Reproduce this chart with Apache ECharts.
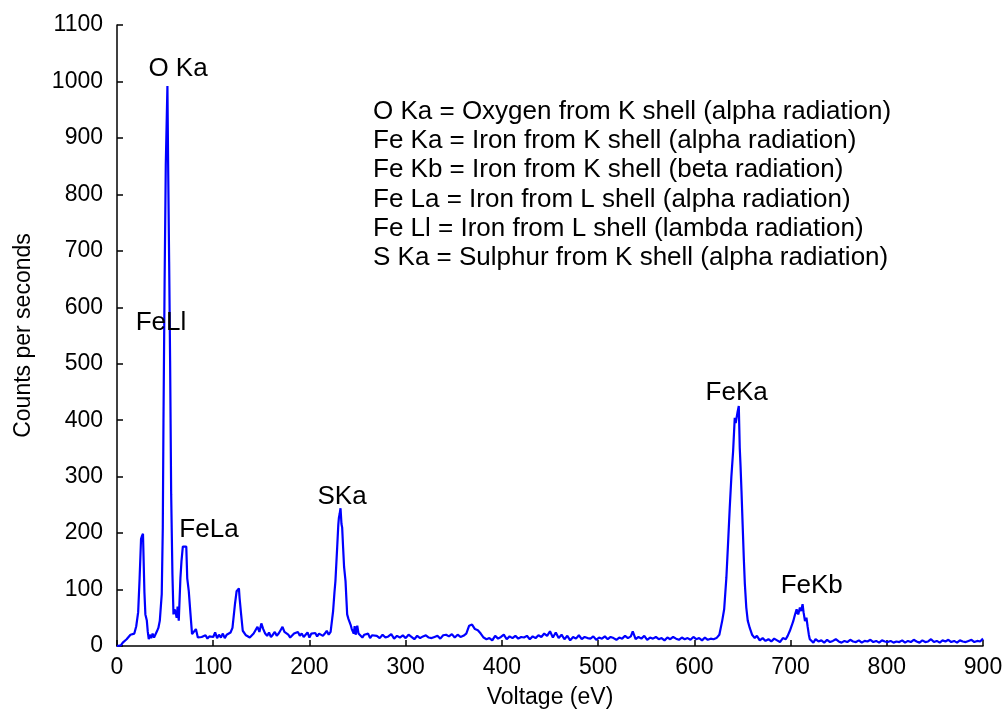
<!DOCTYPE html>
<html><head><meta charset="utf-8">
<script src="https://cdn.jsdelivr.net/npm/echarts@6/dist/echarts.min.js"></script>
<style>html,body{margin:0;padding:0;background:#fff}#c{width:1005px;height:709px}</style>
</head><body><div id="c"></div>
<script>
// Voltage (eV)
const voltage = [0,2,4,6,8,10,12,14,16,18,20,22,23.5,25,26,27,27.7,28.5,29.5,31,32,33,34,35.5,37,38.5,40,41.5,43,44.5,46.5,47.6,48.3,49.5,50.7,52.4,53.1,54.2,55.2,56.3,57.6,58.7,59.8,60.9,62,63,64.2,65.9,67,68.4,70,72,73,74.6,76.4,78,80,82,84,86,88,90,92,94,96,98,100,102,104,106,108,110,112,114,116,118,120,122.6,124.3,126.7,127.4,128.3,129,130.7,132,134,136,138,140,142,144,146,148,150,152,154,156,158,160,162,164,166,168,170,172,174,176,178,180,182,184,186,188,190,192,194,196,198,200,202,204,206,208,210,212,214,216,218,220,222,223.6,224.6,226,227,228.8,230,230.6,231.5,232.3,233.3,234,235,236,237.5,238.5,239.2,240.5,242.7,244,246,247,248,249.7,251,253,255,257,259,261,263,265,267,270,273,276,279,282,285,288,291,294,297,300,303,306,309,312,315,318,321,324,327,330,333,336,339,342,345,348,351,354,357,360,363,366,369,372,375,378,381,384,387,390,393,396,399,402,405,408,411,414,417,420,423,426,429,432,435,438,441,444,447,450,453,456,459,462,465,468,471,474,477,480,483,486,489,492,495,498,501,504,507,510,513,516,519,522,525,528,531,534,536,539,542,545,548,551,554,557,560,563,566,569,572,575,578,581,584,587,590,593,596,599,602,605,608,611,614,617,620,623,626,629,631,633.3,635,636.8,638.5,640.3,642,643,644,645,646.2,647.2,648,649,650.2,651.4,652.5,654,655.5,657.6,660,662.8,665,668,671,674,677,680,683,686,689,692,695,697,699.3,701,702.8,704.5,706.3,708,709.7,711,712.5,713.5,715,716.5,717.7,719,720,722,723.7,726,729,732,735,738,741,744,747,750,753,756,759,762,765,768,771,774,777,780,783,786,789,792,795,798,801,804,807,810,813,816,819,822,825,828,831,834,837,840,843,846,849,852,855,858,861,864,867,870,873,876,879,882,885,888,891,894,897,900];
// Counts per seconds
const counts = [0,2,1,6,5,12,14,20,18,22,35,60,120,190,195,199,150,95,56,45,25,12,20,14,22,15,17,26,32,45,92,210,400,650,853,992,860,680,505,269,127,56,65,60,50,70,45,120,150,176,178,176,120,97,56,21,18,30,15,18,16,14,19,13,17,14,16,24,14,20,15,22,14,20,18,24,32,74,97,102,85,85,56,27,30,19,22,15,18,22,20,34,25,40,30,22,18,24,16,20,25,18,22,28,34,25,28,20,15,17,22,20,25,18,22,16,20,24,15,22,19,23,17,22,25,18,22,27,20,25,27,62,95,115,174,215,227,235,244,216,210,174,140,115,80,56,48,38,30,22,35,20,36,22,24,15,20,17,22,14,19,16,18,14,20,15,17,21,13,18,15,19,14,20,16,12,18,14,17,19,15,14,16,18,13,19,20,17,21,15,20,16,18,22,36,38,30,28,22,15,12,14,10,18,13,16,20,12,17,14,18,13,16,15,18,12,17,14,19,16,22,18,26,15,24,14,20,12,18,10,16,13,19,12,16,14,13,17,11,15,13,17,12,16,14,11,15,13,18,14,17,26,12,16,13,18,11,15,13,16,12,14,10,15,12,16,13,11,15,12,14,11,16,12,14,10,15,11,13,12,14,20,45,65,121,180,245,300,345,404,395,393,415,425,351,320,275,215,156,110,68,45,32,20,14,18,10,14,9,12,8,13,10,7,14,12,18,27,35,44,55,65,56,68,62,74,60,44,50,35,20,12,10,6,12,8,10,6,11,7,9,12,8,6,9,7,11,8,7,10,6,9,8,11,7,9,6,10,8,7,9,6,8,7,10,6,9,7,11,8,6,10,7,8,12,7,9,6,10,8,11,7,9,6,10,8,7,9,11,7,9,8,13];
// Peak labels
const peakNames = ['O Ka','FeLl','FeLa','SKa','FeKa','FeKb'];
const peakX = [63.4,45.7,95.6,233.9,644,722];
const peakY = [1022,572,205,265,449,106];
// Explanatory notes
const notes = [
  'O Ka = Oxygen from K shell (alpha radiation)',
  'Fe Ka = Iron from K shell (alpha radiation)',
  'Fe Kb = Iron from K shell (beta radiation)',
  'Fe La = Iron from L shell (alpha radiation)',
  'Fe Ll = Iron from L shell (lambda radiation)',
  'S Ka = Sulphur from K shell (alpha radiation)'
];

const FONT = 'Liberation Sans, Arial, sans-serif';
const chart = echarts.init(document.getElementById('c'), null, {renderer:'canvas'});
const axisCommon = {
  axisLine:{show:true, lineStyle:{color:'#000', width:1.5}},
  axisTick:{show:true, inside:true, length:6, lineStyle:{color:'#000', width:1.5}},
  splitLine:{show:false}
};
chart.setOption({
  animation:false,
  backgroundColor:'#fff',
  grid:{left:117, right:22, top:25, bottom:63, containLabel:false, outerBoundsMode:'none'},
  xAxis:Object.assign({type:'value', min:0, max:900, interval:100,
    name:'Voltage (eV)', nameLocation:'middle', nameGap:40,
    nameTextStyle:{color:'#000', fontSize:23, fontFamily:FONT}}, axisCommon,
    {axisLabel:{color:'#000', fontSize:23, fontFamily:FONT, margin:10, formatter:v=>String(v)}}),
  yAxis:Object.assign({type:'value', min:0, max:1100, interval:100,
    name:'Counts per seconds', nameLocation:'middle', nameGap:82, nameRotate:90,
    nameTextStyle:{color:'#000', fontSize:23, fontFamily:FONT}}, axisCommon,
    {axisLabel:{color:'#000', fontSize:23, fontFamily:FONT, margin:14, formatter:v=>String(v)}}),
  series:[{
    type:'line',
    data:voltage.map((v,i)=>[v,counts[i]]),
    showSymbol:false,
    lineStyle:{color:'#0000ff', width:2.2},
    itemStyle:{color:'#0000ff'},
    markPoint:{
      symbol:'circle', symbolSize:0,
      label:{show:true, position:'inside', color:'#000', fontSize:26, fontFamily:FONT,
        formatter:p=>p.name},
      data:peakNames.map((n,i)=>({name:n, coord:[peakX[i], peakY[i]]}))
    }
  }],
  graphic:[{
    type:'text', left:373, top:97,
    style:{text:notes.join('\n'), fill:'#000', fontSize:26, fontFamily:FONT, lineHeight:29.3}
  }]
});
</script></body></html>
